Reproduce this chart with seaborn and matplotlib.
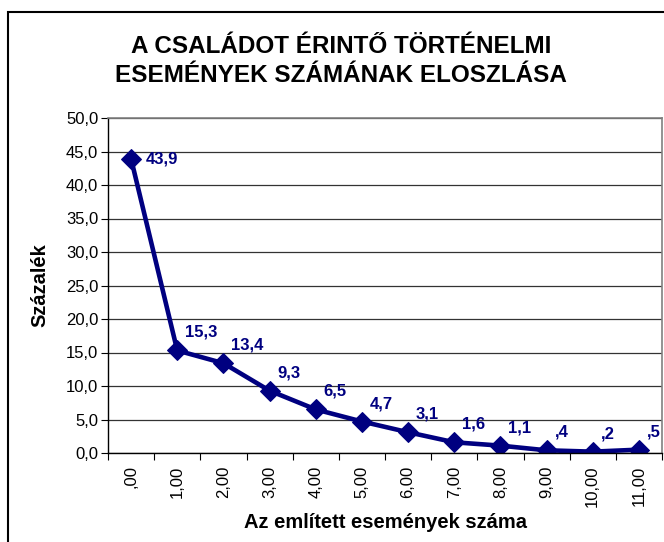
import matplotlib
matplotlib.use("Agg")
import matplotlib.pyplot as plt
import seaborn as sns
import numpy as np
from matplotlib.patches import Rectangle
from matplotlib.ticker import FixedLocator, FuncFormatter

# data
categories = [",00", "1,00", "2,00", "3,00", "4,00", "5,00",
              "6,00", "7,00", "8,00", "9,00", "10,00", "11,00"]
percent = [43.9, 15.3, 13.4, 9.3, 6.5, 4.7, 3.1, 1.6, 1.1, 0.4, 0.2, 0.5]
y_ticks = [0, 5, 10, 15, 20, 25, 30, 35, 40, 45, 50]

NAVY = "#000080"

sns.set_style("white")
plt.rcParams["font.family"] = ["Liberation Sans", "DejaVu Sans"]
plt.rcParams["text.color"] = "black"
plt.rcParams["axes.labelcolor"] = "black"
plt.rcParams["xtick.color"] = "black"
plt.rcParams["ytick.color"] = "black"


def hu_label(v):
    """Excel-style label: comma decimal, no leading zero"""
    s = f"{v:.1f}".replace(".", ",")
    if s.startswith("0,"):
        s = s[1:]
    return s


fig = plt.figure(figsize=(6.64, 5.42), dpi=100)
ax = fig.add_axes([108 / 664, 1 - 453 / 542, (662 - 108) / 664, (453 - 118) / 542])

xpos = np.arange(len(categories))
sns.lineplot(x=xpos, y=percent, ax=ax, color=NAVY, linewidth=3.3,
             marker="D", markersize=10.5, markeredgecolor=NAVY,
             markerfacecolor=NAVY)

for i, v in enumerate(percent):
    offset = (15, 0) if i == 0 else (8, 18)
    ax.annotate(hu_label(v), (xpos[i], v), xytext=offset,
                textcoords="offset pixels", ha="left", va="center",
                fontsize=12, fontweight="bold", color=NAVY)

ax.set_xlim(-0.5, len(categories) - 0.5)
ax.set_ylim(0, 50)
ax.yaxis.set_major_locator(FixedLocator(y_ticks))
ax.yaxis.set_major_formatter(FuncFormatter(lambda v, p: f"{v:.1f}".replace(".", ",")))
ax.set_xticks(xpos)
ax.set_xticklabels(categories, rotation=90)
ax.set_xticks(np.arange(-0.5, len(categories), 1.0), minor=True)
ax.tick_params(axis="x", which="major", length=0, pad=9, labelsize=12)
ax.tick_params(axis="x", which="minor", length=5, width=0.8, direction="out",
               bottom=True, color="black")
ax.tick_params(axis="y", length=5, width=0.8, direction="out", left=True,
               labelsize=12, pad=2, color="black")

ax.grid(axis="y", color="#333333", linewidth=0.9)
ax.grid(axis="x", visible=False)
ax.set_axisbelow(True)

for side in ["left", "bottom"]:
    ax.spines[side].set_color("black")
    ax.spines[side].set_linewidth(1.0)
for side in ["top", "right"]:
    ax.spines[side].set_color("#808080")
    ax.spines[side].set_linewidth(1.2)

ax.set_xlabel("Az említett események száma", fontsize=14.5, fontweight="bold")
ax.set_ylabel("Százalék", fontsize=14.5, fontweight="bold")
ax.xaxis.set_label_coords((385 - 108) / 554, (453 - 522) / 335)
ax.yaxis.set_label_coords((40 - 108) / 554, 0.5)
ax.xaxis.label.set_va("center")
ax.yaxis.label.set_va("center")

fig.text(341 / 664, 1 - 61 / 542,
         "A CSALÁDOT ÉRINTŐ TÖRTÉNELMI\nESEMÉNYEK SZÁMÁNAK ELOSZLÁSA",
         ha="center", va="center", fontsize=17.5, fontweight="bold",
         linespacing=1.38)

# outer chart frame
fig.patches.append(Rectangle((8 / 664, -0.1), 1.2, 1.1 - 12 / 542,
                             transform=fig.transFigure, fill=False,
                             edgecolor="black", linewidth=1.5))

fig.savefig("out.png", dpi=100)
